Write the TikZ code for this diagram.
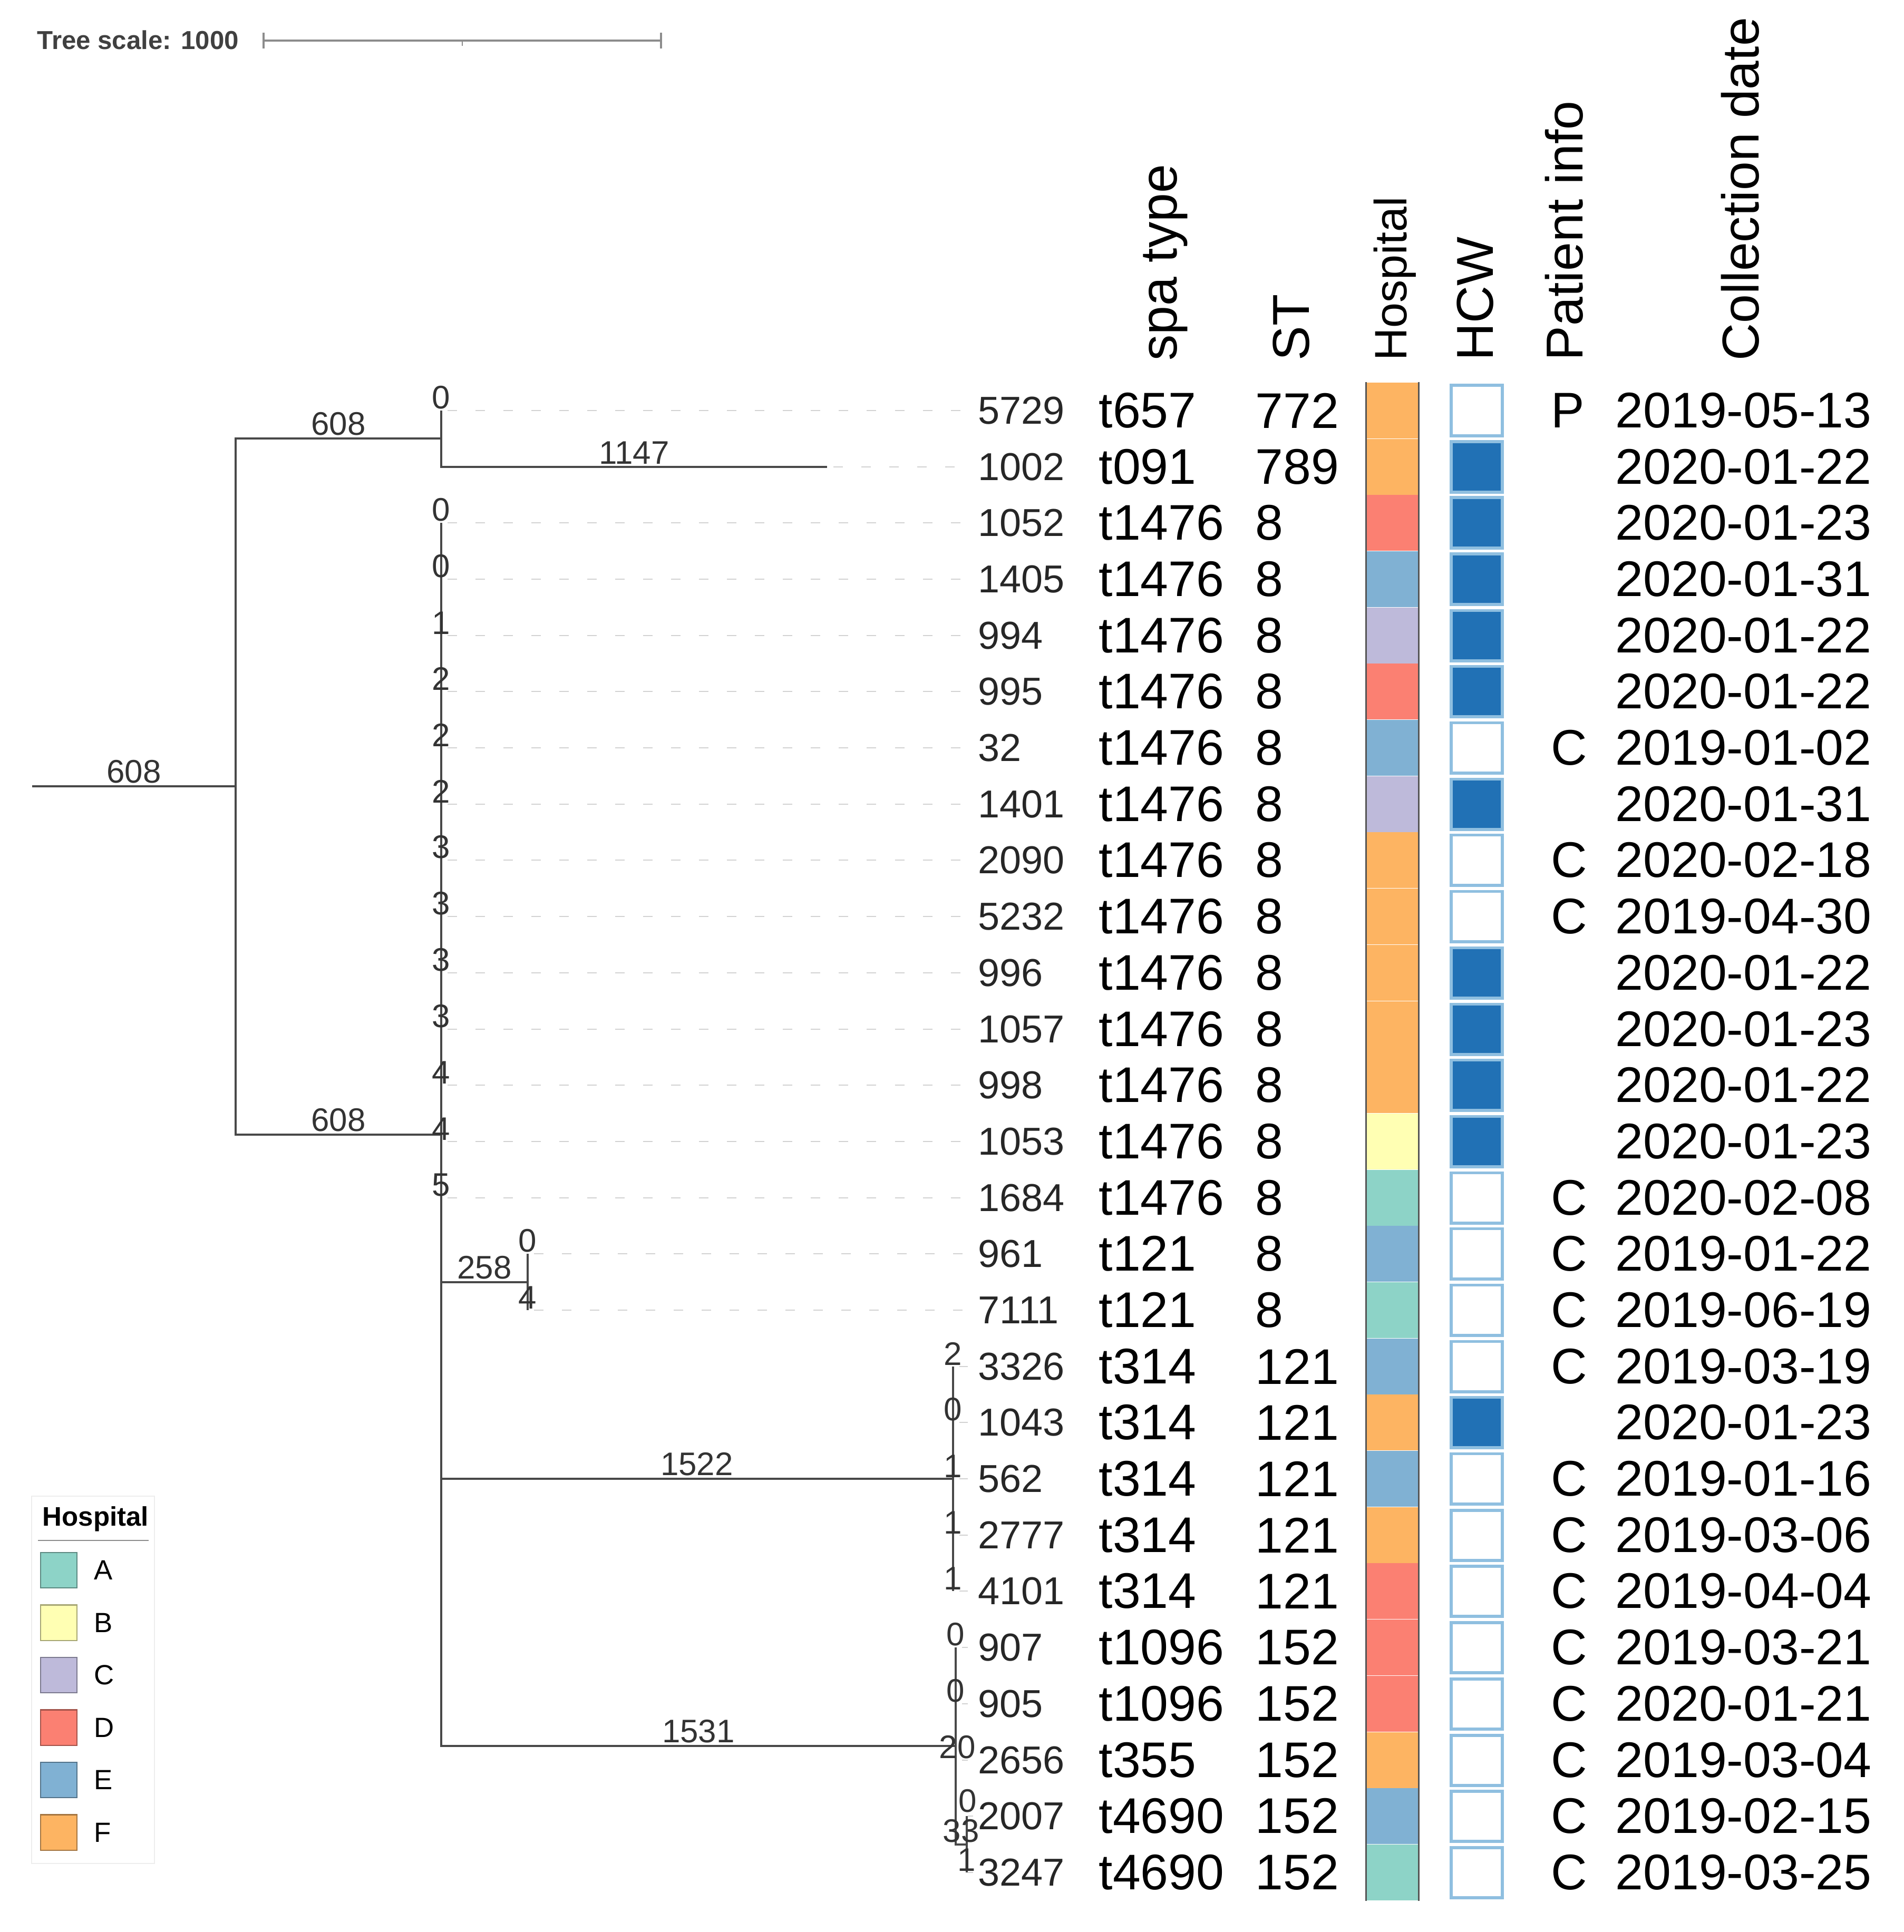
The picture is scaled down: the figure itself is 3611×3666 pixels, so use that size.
\documentclass[tikz,border=0pt]{standalone}
\usepackage{fontspec}
\setmainfont{Liberation Sans}
\usepackage{tikz}
\usepackage{xcolor}

\definecolor{hospA}{HTML}{8DD3C7}
\definecolor{hospB}{HTML}{FFFFB3}
\definecolor{hospC}{HTML}{BEBADA}
\definecolor{hospD}{HTML}{FB8072}
\definecolor{hospE}{HTML}{80B1D3}
\definecolor{hospF}{HTML}{FDB462}
\definecolor{treeline}{HTML}{484848}
\definecolor{leadergray}{HTML}{D2D2D2}
\definecolor{hcwblue}{HTML}{2171B5}
\definecolor{hcwedge}{HTML}{8FBFE0}
\definecolor{stripedge}{HTML}{555555}

\begin{document}
\begin{tikzpicture}[
        x=0.01cm, y=-0.01cm,
        branch/.style={draw=treeline, line width=0.95pt},
        leader/.style={draw=leadergray, line width=0.7pt, dash pattern=on 0.18cm off 0.35cm, shorten <=0.12cm, shorten >=0.19cm},
        brlabel/.style={anchor=south, inner sep=0pt, text=black!80, font=\fontsize{17.6}{20}\selectfont},
        leaflabel/.style={anchor=west, inner sep=0pt, text=black!85, font=\fontsize{21}{25}\selectfont},
        coltext/.style={anchor=west, inner sep=0pt, font=\fontsize{27}{32}\selectfont},
        header/.style={anchor=base west, rotate=90, inner sep=0pt, font=\fontsize{28}{33}\selectfont},
        hcell/.style={minimum width=0.99cm, minimum height=1.067cm, inner sep=0pt},
        hcw/.style={minimum width=0.97cm, minimum height=0.95cm, inner sep=0pt, draw=hcwedge, line width=1.7pt, fill=white},
        hcwyes/.style={hcw, fill=hcwblue},
        swatch/.style={minimum width=0.69cm, minimum height=0.67cm, inner sep=0pt, line width=0.6pt},
        legtext/.style={anchor=west, inner sep=0pt, font=\fontsize{15}{18}\selectfont},
        scalebar/.style={draw=black!45, line width=1.2pt}
      ]

      \useasboundingbox (0,0) rectangle (3611,3666);

      % Tree scale
      \node [anchor=west, inner sep=0pt, text=black!75, font=\bfseries\fontsize{14}{17}\selectfont] (scaletext) at (70,76) {Tree scale: 1000};
      \coordinate (sb0) at (500,77);
      \coordinate (sb1) at (1254,77);
      \coordinate (sbm) at (877,77);
      \draw[scalebar] (sb0) -- (sb1);
      \draw[scalebar] ([yshift=0.15cm]sb0) -- ([yshift=-0.15cm]sb0);
      \draw[scalebar] ([yshift=0.15cm]sb1) -- ([yshift=-0.15cm]sb1);
      \draw[scalebar, line width=0.6pt] (sbm) -- ([yshift=-0.1cm]sbm);

      % Internal nodes
      \coordinate (root) at (61,1492);
      \coordinate (n1) at (447,1492);
      \coordinate (nA) at (837,832);
      \coordinate (nB) at (837,2153);
      \coordinate (nC) at (1001,2433);
      \coordinate (nD) at (1808,2806);
      \coordinate (nE) at (1813,3313);
      \coordinate (nF) at (1834,3500);

      % Tips
      \coordinate (t1) at (837,779);
      \coordinate (t2) at (1569,886);
      \coordinate (t3) at (837,992);
      \coordinate (t4) at (837,1099);
      \coordinate (t5) at (837,1206);
      \coordinate (t6) at (837,1312);
      \coordinate (t7) at (837,1419);
      \coordinate (t8) at (837,1526);
      \coordinate (t9) at (837,1632);
      \coordinate (t10) at (837,1739);
      \coordinate (t11) at (837,1846);
      \coordinate (t12) at (837,1953);
      \coordinate (t13) at (837,2059);
      \coordinate (t14) at (837,2166);
      \coordinate (t15) at (837,2273);
      \coordinate (t16) at (1001,2379);
      \coordinate (t17) at (1001,2486);
      \coordinate (t18) at (1808,2593);
      \coordinate (t19) at (1808,2699);
      \coordinate (t20) at (1808,2806);
      \coordinate (t21) at (1808,2913);
      \coordinate (t22) at (1808,3019);
      \coordinate (t23) at (1813,3126);
      \coordinate (t24) at (1813,3233);
      \coordinate (t25) at (1813,3340);
      \coordinate (t26) at (1834,3446);
      \coordinate (t27) at (1834,3553);

      % Leaf labels
      \node [leaflabel] (id5729) at (1855,779) {5729};
      \node [leaflabel] (id1002) at (1855,886) {1002};
      \node [leaflabel] (id1052) at (1855,992) {1052};
      \node [leaflabel] (id1405) at (1855,1099) {1405};
      \node [leaflabel] (id994) at (1855,1206) {994};
      \node [leaflabel] (id995) at (1855,1312) {995};
      \node [leaflabel] (id32) at (1855,1419) {32};
      \node [leaflabel] (id1401) at (1855,1526) {1401};
      \node [leaflabel] (id2090) at (1855,1632) {2090};
      \node [leaflabel] (id5232) at (1855,1739) {5232};
      \node [leaflabel] (id996) at (1855,1846) {996};
      \node [leaflabel] (id1057) at (1855,1953) {1057};
      \node [leaflabel] (id998) at (1855,2059) {998};
      \node [leaflabel] (id1053) at (1855,2166) {1053};
      \node [leaflabel] (id1684) at (1855,2273) {1684};
      \node [leaflabel] (id961) at (1855,2379) {961};
      \node [leaflabel] (id7111) at (1855,2486) {7111};
      \node [leaflabel] (id3326) at (1855,2593) {3326};
      \node [leaflabel] (id1043) at (1855,2699) {1043};
      \node [leaflabel] (id562) at (1855,2806) {562};
      \node [leaflabel] (id2777) at (1855,2913) {2777};
      \node [leaflabel] (id4101) at (1855,3019) {4101};
      \node [leaflabel] (id907) at (1855,3126) {907};
      \node [leaflabel] (id905) at (1855,3233) {905};
      \node [leaflabel] (id2656) at (1855,3340) {2656};
      \node [leaflabel] (id2007) at (1855,3446) {2007};
      \node [leaflabel] (id3247) at (1855,3553) {3247};

      % Dashed leaders
      \draw[leader] (t1) -- (id5729.west);
      \draw[leader] (t2) -- (id1002.west);
      \draw[leader] (t3) -- (id1052.west);
      \draw[leader] (t4) -- (id1405.west);
      \draw[leader] (t5) -- (id994.west);
      \draw[leader] (t6) -- (id995.west);
      \draw[leader] (t7) -- (id32.west);
      \draw[leader] (t8) -- (id1401.west);
      \draw[leader] (t9) -- (id2090.west);
      \draw[leader] (t10) -- (id5232.west);
      \draw[leader] (t11) -- (id996.west);
      \draw[leader] (t12) -- (id1057.west);
      \draw[leader] (t13) -- (id998.west);
      \draw[leader] (t14) -- (id1053.west);
      \draw[leader] (t15) -- (id1684.west);
      \draw[leader] (t16) -- (id961.west);
      \draw[leader] (t17) -- (id7111.west);
      \draw[leader] (t18) -- (id3326.west);
      \draw[leader] (t19) -- (id1043.west);
      \draw[leader] (t20) -- (id562.west);
      \draw[leader] (t21) -- (id2777.west);
      \draw[leader] (t22) -- (id4101.west);
      \draw[leader] (t23) -- (id907.west);
      \draw[leader] (t24) -- (id905.west);
      \draw[leader] (t25) -- (id2656.west);
      \draw[leader] (t26) -- (id2007.west);
      \draw[leader] (t27) -- (id3247.west);

      % Branches
      \draw[branch] (root) -- (n1);
      \draw[branch] (n1) |- (nA);
      \draw[branch] (n1) |- (nB);
      \draw[branch] (nA) |- (t1);
      \draw[branch] (nA) |- (t2);
      \draw[branch] (nB) |- (t3);
      \draw[branch] (nB) |- (nE);
      \draw[branch] (nB) |- (nC);
      \draw[branch] (nB) |- (nD);
      \draw[branch] (nC) |- (t16);
      \draw[branch] (nC) |- (t17);
      \draw[branch] (nD) |- (t18);
      \draw[branch] (nD) |- (t22);
      \draw[branch] (nE) |- (t23);
      \draw[branch] (nE) |- (nF);
      \draw[branch] (nF) |- (t26);
      \draw[branch] (nF) |- (t27);

      % Branch lengths
      \node [brlabel] (bl0) at (254,1487) {608};
      \node [brlabel] (blA) at (642,827) {608};
      \node [brlabel] (blB) at (642,2148) {608};
      \node [brlabel] (bl2) at (1203,881) {1147};
      \node [brlabel] (blC) at (919,2428) {258};
      \node [brlabel] (blD) at (1322,2801) {1522};
      \node [brlabel] (blE) at (1325,3308) {1531};
      \node [brlabel] (blF) at (1823,3497) {33};

      \node [brlabel] (bt1) at (837,777) {0};
      \node [brlabel] (bt3) at (837,990) {0};
      \node [brlabel] (bt4) at (837,1097) {0};
      \node [brlabel] (bt5) at (837,1204) {1};
      \node [brlabel] (bt6) at (837,1310) {2};
      \node [brlabel] (bt7) at (837,1417) {2};
      \node [brlabel] (bt8) at (837,1524) {2};
      \node [brlabel] (bt9) at (837,1630) {3};
      \node [brlabel] (bt10) at (837,1737) {3};
      \node [brlabel] (bt11) at (837,1844) {3};
      \node [brlabel] (bt12) at (837,1951) {3};
      \node [brlabel] (bt13) at (837,2057) {4};
      \node [brlabel] (bt14) at (837,2164) {4};
      \node [brlabel] (bt15) at (837,2271) {5};
      \node [brlabel] (bt16) at (1001,2377) {0};
      \node [brlabel] (bt17) at (1001,2484) {4};
      \node [brlabel] (bt18) at (1808,2591) {2};
      \node [brlabel] (bt19) at (1808,2697) {0};
      \node [brlabel] (bt20) at (1808,2804) {1};
      \node [brlabel] (bt21) at (1808,2911) {1};
      \node [brlabel] (bt22) at (1808,3017) {1};
      \node [brlabel] (bt23) at (1813,3124) {0};
      \node [brlabel] (bt24) at (1813,3231) {0};
      \node [brlabel] (bt25) at (1816,3338) {20};
      \node [brlabel] (bt26) at (1836,3440) {0};
      \node [brlabel] (bt27) at (1834,3551) {1};

      % Column headers
      \node [header] (hdspa) at (2232,685) {spa type};
      \node [header] (hdst) at (2483,685) {ST};
      \node [header, font=\fontsize{24.5}{29}\selectfont] (hdhosp) at (2668,685) {Hospital};
      \node [header] (hdhcw) at (2832,685) {HCW};
      \node [header] (hdpat) at (3002,685) {Patient info};
      \node [header] (hddate) at (3336,685) {Collection date};

      % spa type
      \node [coltext] (spa1) at (2084,779) {t657};
      \node [coltext] (spa2) at (2084,886) {t091};
      \node [coltext] (spa3) at (2084,992) {t1476};
      \node [coltext] (spa4) at (2084,1099) {t1476};
      \node [coltext] (spa5) at (2084,1206) {t1476};
      \node [coltext] (spa6) at (2084,1312) {t1476};
      \node [coltext] (spa7) at (2084,1419) {t1476};
      \node [coltext] (spa8) at (2084,1526) {t1476};
      \node [coltext] (spa9) at (2084,1632) {t1476};
      \node [coltext] (spa10) at (2084,1739) {t1476};
      \node [coltext] (spa11) at (2084,1846) {t1476};
      \node [coltext] (spa12) at (2084,1953) {t1476};
      \node [coltext] (spa13) at (2084,2059) {t1476};
      \node [coltext] (spa14) at (2084,2166) {t1476};
      \node [coltext] (spa15) at (2084,2273) {t1476};
      \node [coltext] (spa16) at (2084,2379) {t121};
      \node [coltext] (spa17) at (2084,2486) {t121};
      \node [coltext] (spa18) at (2084,2593) {t314};
      \node [coltext] (spa19) at (2084,2699) {t314};
      \node [coltext] (spa20) at (2084,2806) {t314};
      \node [coltext] (spa21) at (2084,2913) {t314};
      \node [coltext] (spa22) at (2084,3019) {t314};
      \node [coltext] (spa23) at (2084,3126) {t1096};
      \node [coltext] (spa24) at (2084,3233) {t1096};
      \node [coltext] (spa25) at (2084,3340) {t355};
      \node [coltext] (spa26) at (2084,3446) {t4690};
      \node [coltext] (spa27) at (2084,3553) {t4690};

      % ST
      \node [coltext] (st1) at (2381,779) {772};
      \node [coltext] (st2) at (2381,886) {789};
      \node [coltext] (st3) at (2381,992) {8};
      \node [coltext] (st4) at (2381,1099) {8};
      \node [coltext] (st5) at (2381,1206) {8};
      \node [coltext] (st6) at (2381,1312) {8};
      \node [coltext] (st7) at (2381,1419) {8};
      \node [coltext] (st8) at (2381,1526) {8};
      \node [coltext] (st9) at (2381,1632) {8};
      \node [coltext] (st10) at (2381,1739) {8};
      \node [coltext] (st11) at (2381,1846) {8};
      \node [coltext] (st12) at (2381,1953) {8};
      \node [coltext] (st13) at (2381,2059) {8};
      \node [coltext] (st14) at (2381,2166) {8};
      \node [coltext] (st15) at (2381,2273) {8};
      \node [coltext] (st16) at (2381,2379) {8};
      \node [coltext] (st17) at (2381,2486) {8};
      \node [coltext] (st18) at (2381,2593) {121};
      \node [coltext] (st19) at (2381,2699) {121};
      \node [coltext] (st20) at (2381,2806) {121};
      \node [coltext] (st21) at (2381,2913) {121};
      \node [coltext] (st22) at (2381,3019) {121};
      \node [coltext] (st23) at (2381,3126) {152};
      \node [coltext] (st24) at (2381,3233) {152};
      \node [coltext] (st25) at (2381,3340) {152};
      \node [coltext] (st26) at (2381,3446) {152};
      \node [coltext] (st27) at (2381,3553) {152};

      % Hospital strip
      \node [hcell, fill=hospF] (h1) at (2641.5,779) {};
      \node [hcell, fill=hospF] (h2) at (2641.5,886) {};
      \node [hcell, fill=hospD] (h3) at (2641.5,992) {};
      \node [hcell, fill=hospE] (h4) at (2641.5,1099) {};
      \node [hcell, fill=hospC] (h5) at (2641.5,1206) {};
      \node [hcell, fill=hospD] (h6) at (2641.5,1312) {};
      \node [hcell, fill=hospE] (h7) at (2641.5,1419) {};
      \node [hcell, fill=hospC] (h8) at (2641.5,1526) {};
      \node [hcell, fill=hospF] (h9) at (2641.5,1632) {};
      \node [hcell, fill=hospF] (h10) at (2641.5,1739) {};
      \node [hcell, fill=hospF] (h11) at (2641.5,1846) {};
      \node [hcell, fill=hospF] (h12) at (2641.5,1953) {};
      \node [hcell, fill=hospF] (h13) at (2641.5,2059) {};
      \node [hcell, fill=hospB] (h14) at (2641.5,2166) {};
      \node [hcell, fill=hospA] (h15) at (2641.5,2273) {};
      \node [hcell, fill=hospE] (h16) at (2641.5,2379) {};
      \node [hcell, fill=hospA] (h17) at (2641.5,2486) {};
      \node [hcell, fill=hospE] (h18) at (2641.5,2593) {};
      \node [hcell, fill=hospF] (h19) at (2641.5,2699) {};
      \node [hcell, fill=hospE] (h20) at (2641.5,2806) {};
      \node [hcell, fill=hospF] (h21) at (2641.5,2913) {};
      \node [hcell, fill=hospD] (h22) at (2641.5,3019) {};
      \node [hcell, fill=hospD] (h23) at (2641.5,3126) {};
      \node [hcell, fill=hospD] (h24) at (2641.5,3233) {};
      \node [hcell, fill=hospF] (h25) at (2641.5,3340) {};
      \node [hcell, fill=hospE] (h26) at (2641.5,3446) {};
      \node [hcell, fill=hospA] (h27) at (2641.5,3553) {};
      \draw[stripedge, line width=0.9pt] (h1.north west) -- (h27.south west);
      \draw[stripedge, line width=0.9pt] (h1.north east) -- (h27.south east);

      % HCW
      \node [hcw] (w1) at (2801.5,779) {};
      \node [hcwyes] (w2) at (2801.5,886) {};
      \node [hcwyes] (w3) at (2801.5,992) {};
      \node [hcwyes] (w4) at (2801.5,1099) {};
      \node [hcwyes] (w5) at (2801.5,1206) {};
      \node [hcwyes] (w6) at (2801.5,1312) {};
      \node [hcw] (w7) at (2801.5,1419) {};
      \node [hcwyes] (w8) at (2801.5,1526) {};
      \node [hcw] (w9) at (2801.5,1632) {};
      \node [hcw] (w10) at (2801.5,1739) {};
      \node [hcwyes] (w11) at (2801.5,1846) {};
      \node [hcwyes] (w12) at (2801.5,1953) {};
      \node [hcwyes] (w13) at (2801.5,2059) {};
      \node [hcwyes] (w14) at (2801.5,2166) {};
      \node [hcw] (w15) at (2801.5,2273) {};
      \node [hcw] (w16) at (2801.5,2379) {};
      \node [hcw] (w17) at (2801.5,2486) {};
      \node [hcw] (w18) at (2801.5,2593) {};
      \node [hcwyes] (w19) at (2801.5,2699) {};
      \node [hcw] (w20) at (2801.5,2806) {};
      \node [hcw] (w21) at (2801.5,2913) {};
      \node [hcw] (w22) at (2801.5,3019) {};
      \node [hcw] (w23) at (2801.5,3126) {};
      \node [hcw] (w24) at (2801.5,3233) {};
      \node [hcw] (w25) at (2801.5,3340) {};
      \node [hcw] (w26) at (2801.5,3446) {};
      \node [hcw] (w27) at (2801.5,3553) {};

      % Patient info
      \node [coltext] (pat1) at (2942,779) {P};
      \node [coltext] (pat7) at (2942,1419) {C};
      \node [coltext] (pat9) at (2942,1632) {C};
      \node [coltext] (pat10) at (2942,1739) {C};
      \node [coltext] (pat15) at (2942,2273) {C};
      \node [coltext] (pat16) at (2942,2379) {C};
      \node [coltext] (pat17) at (2942,2486) {C};
      \node [coltext] (pat18) at (2942,2593) {C};
      \node [coltext] (pat20) at (2942,2806) {C};
      \node [coltext] (pat21) at (2942,2913) {C};
      \node [coltext] (pat22) at (2942,3019) {C};
      \node [coltext] (pat23) at (2942,3126) {C};
      \node [coltext] (pat24) at (2942,3233) {C};
      \node [coltext] (pat25) at (2942,3340) {C};
      \node [coltext] (pat26) at (2942,3446) {C};
      \node [coltext] (pat27) at (2942,3553) {C};

      % Collection date
      \node [coltext] (date1) at (3064,779) {2019-05-13};
      \node [coltext] (date2) at (3064,886) {2020-01-22};
      \node [coltext] (date3) at (3064,992) {2020-01-23};
      \node [coltext] (date4) at (3064,1099) {2020-01-31};
      \node [coltext] (date5) at (3064,1206) {2020-01-22};
      \node [coltext] (date6) at (3064,1312) {2020-01-22};
      \node [coltext] (date7) at (3064,1419) {2019-01-02};
      \node [coltext] (date8) at (3064,1526) {2020-01-31};
      \node [coltext] (date9) at (3064,1632) {2020-02-18};
      \node [coltext] (date10) at (3064,1739) {2019-04-30};
      \node [coltext] (date11) at (3064,1846) {2020-01-22};
      \node [coltext] (date12) at (3064,1953) {2020-01-23};
      \node [coltext] (date13) at (3064,2059) {2020-01-22};
      \node [coltext] (date14) at (3064,2166) {2020-01-23};
      \node [coltext] (date15) at (3064,2273) {2020-02-08};
      \node [coltext] (date16) at (3064,2379) {2019-01-22};
      \node [coltext] (date17) at (3064,2486) {2019-06-19};
      \node [coltext] (date18) at (3064,2593) {2019-03-19};
      \node [coltext] (date19) at (3064,2699) {2020-01-23};
      \node [coltext] (date20) at (3064,2806) {2019-01-16};
      \node [coltext] (date21) at (3064,2913) {2019-03-06};
      \node [coltext] (date22) at (3064,3019) {2019-04-04};
      \node [coltext] (date23) at (3064,3126) {2019-03-21};
      \node [coltext] (date24) at (3064,3233) {2020-01-21};
      \node [coltext] (date25) at (3064,3340) {2019-03-04};
      \node [coltext] (date26) at (3064,3446) {2019-02-15};
      \node [coltext] (date27) at (3064,3553) {2019-03-25};

      % Legend
      \node [draw=black!7, line width=0.6pt, minimum width=2.33cm, minimum height=6.97cm, inner sep=0pt] (legbox) at (176.5,3187.5) {};
      \node [anchor=base west, inner sep=0pt, font=\bfseries\fontsize{14.5}{17}\selectfont] (legtitle) at (80,2895) {Hospital};
      \draw[black!45, line width=0.6pt] (72,2923) -- (282,2923);
      \node [swatch, fill=hospA, draw=hospA!65!black] (swA) at (111.5,2979.5) {};
      \node [swatch, fill=hospB, draw=hospB!65!black] (swB) at (111.5,3079) {};
      \node [swatch, fill=hospC, draw=hospC!65!black] (swC) at (111.5,3178.5) {};
      \node [swatch, fill=hospD, draw=hospD!65!black] (swD) at (111.5,3278) {};
      \node [swatch, fill=hospE, draw=hospE!65!black] (swE) at (111.5,3377.5) {};
      \node [swatch, fill=hospF, draw=hospF!65!black] (swF) at (111.5,3477) {};
      \node [legtext] (legA) at (178,2979.5) {A};
      \node [legtext] (legB) at (178,3079) {B};
      \node [legtext] (legC) at (178,3178.5) {C};
      \node [legtext] (legD) at (178,3278) {D};
      \node [legtext] (legE) at (178,3377.5) {E};
      \node [legtext] (legF) at (178,3477) {F};

    \end{tikzpicture}
\end{document}
